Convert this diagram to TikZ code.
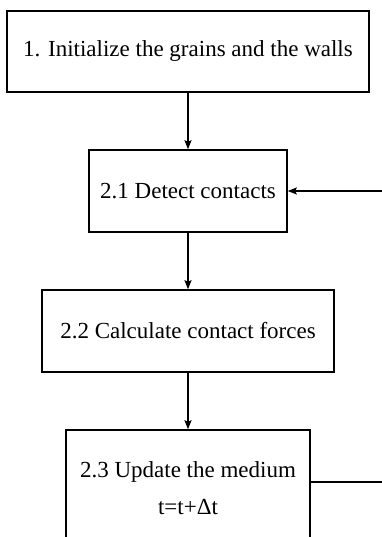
\documentclass[tikz,border=0pt]{standalone}
\usepackage{fontspec}
\setmainfont{Liberation Serif}
\usetikzlibrary{arrows.meta}
\begin{document}
\begin{tikzpicture}[x=1pt,y=-1pt,
  stepbox/.style={draw,line width=1.6pt,rectangle,inner sep=0pt,align=center,
    font=\fontsize{23}{37}\selectfont},
  conn/.style={line width=1.4pt,-{Stealth[length=9pt,width=7pt,inset=1.5pt]}}]
\useasboundingbox (0,0) rectangle (382,537);
\clip (0,0) rectangle (382,537);
\node[stepbox,minimum width=362pt,minimum height=81pt] (b1) at (188,51.5) {1. Initialize the grains and the walls};
\node[stepbox,minimum width=198pt,minimum height=82pt] (b21) at (188,191) {2.1 Detect contacts};
\node[stepbox,minimum width=292pt,minimum height=82pt] (b22) at (188,331) {2.2 Calculate contact forces};
\node[stepbox,minimum width=244pt,minimum height=116pt] (b23) at (188,488) {2.3 Update the medium\\t=t+Δt};
\coordinate (r1) at (383,191);
\coordinate (r2) at (383,482);
\draw[conn] (b1) -- (b21);
\draw[conn] (b21) -- (b22);
\draw[conn] (b22) -- (b23);
\draw[conn] (r1) -- (b21.east);
\draw[line width=1.4pt] (b23.east |- r2) -- (r2);
\end{tikzpicture}
\end{document}
